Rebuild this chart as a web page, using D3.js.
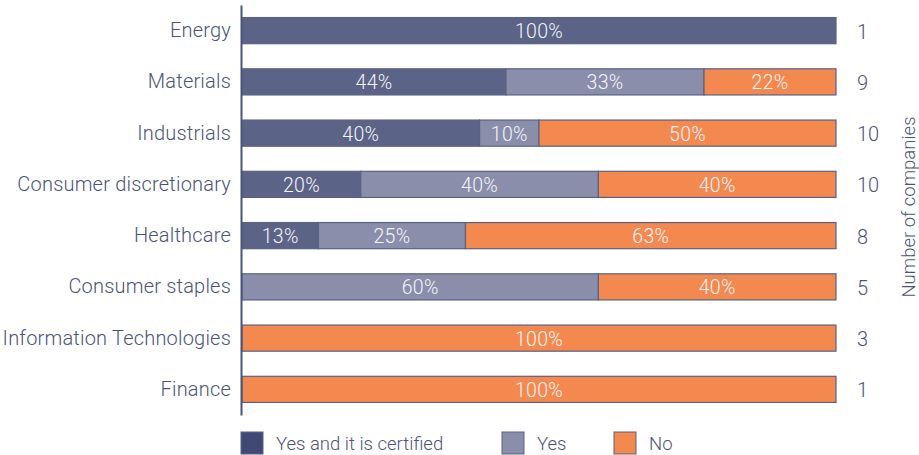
<!DOCTYPE html>
<html>
<head>
<meta charset="utf-8">
<script src="https://cdn.jsdelivr.net/npm/d3@7"></script>
<style>
  html, body { margin: 0; padding: 0; background: #fff; }
  svg { display: block; font-family: Roboto, "Liberation Sans", sans-serif; font-weight: 300; }
</style>
</head>
<body>
<svg id="chart" width="919" height="455"></svg>
<script>
// Sectors and the share of companies in each answer group (%)
const sectors = ["Energy", "Materials", "Industrials", "Consumer discretionary",
                 "Healthcare", "Consumer staples", "Information Technologies", "Finance"];
const certified = [100, 44, 40, 20, 13, 0, 0, 0];
const yesOnly   = [0, 33, 10, 40, 25, 60, 0, 0];
const no        = [0, 22, 50, 40, 63, 40, 100, 100];
const companies = [1, 9, 10, 10, 8, 5, 3, 1];

const seriesKeys  = ["certified", "yes", "no"];
const seriesNames = ["Yes and it is certified", "Yes", "No"];
const fills       = ["#5b6387", "#8a8eab", "#f3894f"];
const legendFills = ["#3f4973", "#8a8eab", "#f3894f"];
const textColor   = "#4b5479";
const font        = "Roboto, 'Liberation Sans', sans-serif";

const rows = sectors.map((s, i) => ({
  sector: s, certified: certified[i], yes: yesOnly[i], no: no[i]
}));

const svg = d3.select("#chart");

const x = d3.scaleLinear().domain([0, 1]).range([242, 836]);
const y = d3.scaleBand().domain(sectors).range([5, 415]).paddingInner(0.49).paddingOuter(0.245);

// Each row is normalised to its own total so every bar spans the full width
const stacked = d3.stack().keys(seriesKeys).offset(d3.stackOffsetExpand)(rows);

const layers = svg.append("g").selectAll("g")
  .data(stacked)
  .join("g")
  .attr("fill", (d, i) => fills[i]);

layers.selectAll("rect")
  .data(d => d.filter(p => p[1] - p[0] > 0))
  .join("rect")
  .attr("x", d => x(d[0]))
  .attr("y", d => y(d.data.sector))
  .attr("width", d => x(d[1]) - x(d[0]))
  .attr("height", y.bandwidth())
  .attr("stroke", "#5a6284")
  .attr("stroke-width", 1.2);

// Percentage labels centred in each segment
stacked.forEach((layer, li) => {
  svg.append("g").selectAll("text")
    .data(layer.filter(p => p[1] - p[0] > 0))
    .join("text")
    .attr("x", d => (x(d[0]) + x(d[1])) / 2)
    .attr("y", d => y(d.data.sector) + y.bandwidth() / 2 + 1)
    .attr("text-anchor", "middle")
    .attr("dominant-baseline", "central")
    .attr("fill", "#f4f4f8")
    .attr("font-size", 19.5)
    .attr("letter-spacing", 0.3)
    .text(d => d.data[seriesKeys[li]] + "%");
});

// Category axis
const yAxis = svg.append("g")
  .attr("transform", "translate(241,0)")
  .call(d3.axisLeft(y).tickSize(0).tickPadding(10));
yAxis.select(".domain").attr("stroke", textColor).attr("stroke-width", 2);
yAxis.selectAll("text")
  .attr("fill", textColor)
  .attr("font-size", 20)
  .attr("letter-spacing", 0.2)
  .attr("font-family", font)
  .attr("font-weight", 300);

// Company counts on the right
svg.append("g").selectAll("text")
  .data(sectors)
  .join("text")
  .attr("x", 857)
  .attr("y", d => y(d) + y.bandwidth() / 2 + 1)
  .attr("dominant-baseline", "central")
  .attr("fill", textColor)
  .attr("font-size", 20)
  .text((d, i) => companies[i]);

svg.append("text")
  .attr("transform", "translate(909,207) rotate(-90)")
  .attr("text-anchor", "middle")
  .attr("dominant-baseline", "central")
  .attr("fill", textColor)
  .attr("font-size", 18.5)
  .text("Number of companies");

// Legend
const legendX = [241, 502, 614];
const legend = svg.append("g").selectAll("g")
  .data(seriesNames)
  .join("g")
  .attr("transform", (d, i) => `translate(${legendX[i]},432)`);
legend.append("rect")
  .attr("width", 22).attr("height", 22)
  .attr("fill", (d, i) => legendFills[i])
  .attr("stroke", "#5a6284").attr("stroke-width", 1);
legend.append("text")
  .attr("x", 35).attr("y", 12)
  .attr("dominant-baseline", "central")
  .attr("fill", textColor)
  .attr("font-size", 18.5)
  .text(d => d);
</script>
</body>
</html>
